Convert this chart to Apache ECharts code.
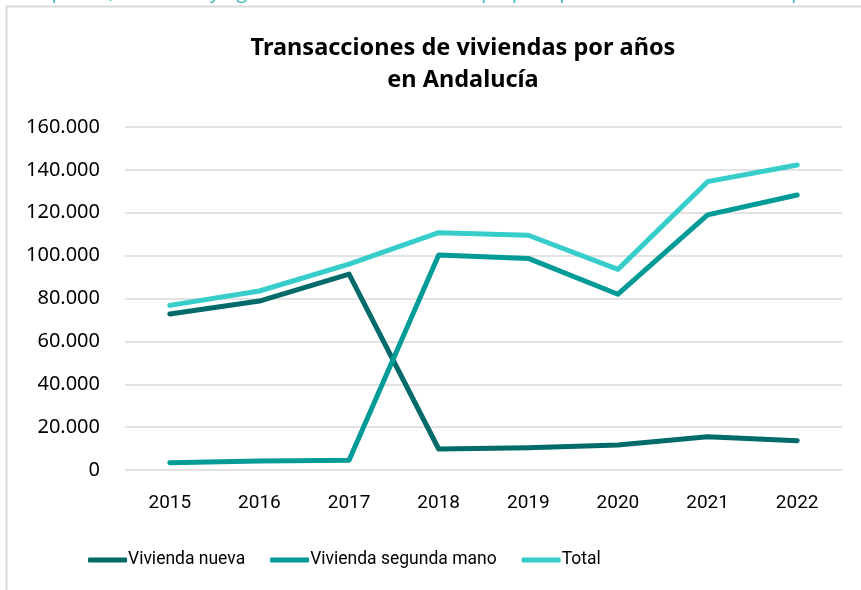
<!DOCTYPE html>
<html>
<head>
<meta charset="utf-8">
<script src="https://cdn.jsdelivr.net/npm/echarts@6/dist/echarts.min.js"></script>
<style>
  html, body { margin: 0; padding: 0; background: #ffffff; }
  #chart { width: 861px; height: 590px; }
</style>
</head>
<body>
<div id="chart"></div>
<script>
// Años de la serie
const years = ['2015', '2016', '2017', '2018', '2019', '2020', '2021', '2022'];

// Transacciones de vivienda (número de operaciones)
const viviendaNueva = [72800, 78800, 91400, 9800, 10400, 11700, 15500, 13700];
const viviendaSegundaMano = [3400, 4200, 4500, 100300, 98700, 82000, 119000, 128300];
const total = [76800, 83500, 96000, 110700, 109500, 93600, 134500, 142300];

// Eje vertical
const yTicks = [0, 20000, 40000, 60000, 80000, 100000, 120000, 140000, 160000];

const seriesNames = ['Vivienda nueva', 'Vivienda segunda mano', 'Total'];
const seriesColors = ['#006b69', '#009a97', '#36cdcb'];

const fmt = v => String(v).replace(/\B(?=(\d{3})+(?!\d))/g, '.');

const chart = echarts.init(document.getElementById('chart'), null, { renderer: 'canvas' });

const lineSeries = [viviendaNueva, viviendaSegundaMano, total].map((data, i) => ({
  name: seriesNames[i],
  type: 'line',
  data: data,
  symbol: 'none',
  smooth: false,
  z: 3 + i,
  lineStyle: { color: seriesColors[i], width: 5, cap: 'round', join: 'round' },
  itemStyle: { color: seriesColors[i] }
}));

chart.setOption({
  animation: false,
  backgroundColor: '#ffffff',
  title: {
    text: 'Transacciones de viviendas por años\nen Andalucía',
    left: 458,
    textAlign: 'center',
    top: 27,
    textStyle: {
      fontFamily: 'Noto Sans',
      fontWeight: 'bold',
      fontSize: 23.5,
      lineHeight: 32,
      color: '#000000'
    }
  },
  graphic: [
    {
      type: 'rect',
      silent: true,
      shape: { x: 6.5, y: 6.5, width: 900, height: 700 },
      style: { fill: 'none', stroke: '#d9d9d9', lineWidth: 2 }
    },
    {
      type: 'text',
      silent: true,
      left: -190,
      top: -16,
      style: {
        text: 'Fuente: Ministerio de Transportes, Movilidad y Agenda Urbana. Elaboración propia a partir de cuentas de la empresa',
        fontFamily: 'Open Sans',
        fontSize: 19,
        fill: '#2fb8b6'
      }
    }
  ],
  legend: {
    left: 83,
    top: 546,
    itemWidth: 39,
    itemHeight: 5,
    itemGap: 25,
    icon: 'roundRect',
    textStyle: {
      fontFamily: 'Roboto',
      fontSize: 17.5,
      color: '#000000',
      padding: [0, 0, 0, -4]
    },
    data: seriesNames
  },
  grid: { left: 125, right: 19, top: 127, bottom: 120 },
  xAxis: {
    type: 'category',
    data: years,
    boundaryGap: true,
    axisLine: { show: false },
    axisTick: { show: false },
    axisLabel: {
      margin: 24,
      fontFamily: 'Roboto',
      fontSize: 19,
      color: '#000000'
    }
  },
  yAxis: {
    type: 'value',
    min: yTicks[0],
    max: yTicks[yTicks.length - 1],
    interval: yTicks[1] - yTicks[0],
    axisLine: { show: false },
    axisTick: { show: false },
    splitLine: { lineStyle: { color: '#d9d9d9', width: 1.5 } },
    axisLabel: {
      margin: 25,
      fontFamily: 'Noto Sans',
      fontSize: 20,
      color: '#000000',
      formatter: v => fmt(v)
    }
  },
  series: lineSeries
});
</script>
</body>
</html>
